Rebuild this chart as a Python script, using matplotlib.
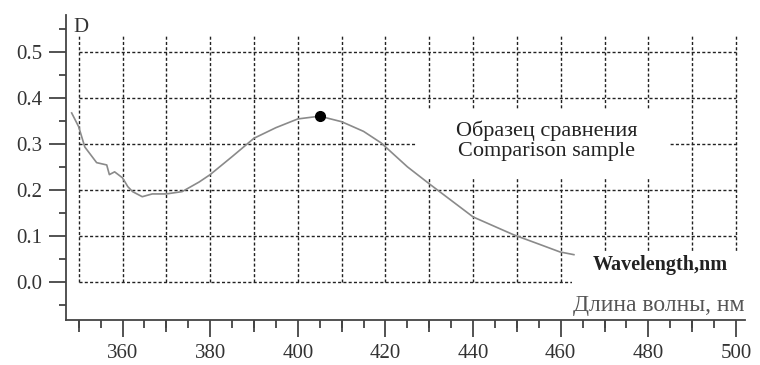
import matplotlib.pyplot as plt
from matplotlib.patches import Rectangle
from matplotlib.ticker import MultipleLocator, NullFormatter

# absorption spectrum of the comparison sample
wavelength = [348.4, 350, 351.4, 354.1, 356.4, 357, 358.2, 360, 361.2, 362.3,
              364.5, 366.8, 370, 373.6, 377.5, 380, 385, 390, 395, 400,
              405, 410, 415, 419, 425, 430, 435, 440, 445, 449.3,
              455, 459.8, 463]
optical_density = [0.367, 0.337, 0.293, 0.259, 0.254, 0.233, 0.239, 0.226, 0.207, 0.196,
                   0.185, 0.191, 0.191, 0.196, 0.217, 0.233, 0.272, 0.312, 0.335, 0.354,
                   0.360, 0.348, 0.327, 0.302, 0.250, 0.213, 0.177, 0.141, 0.120, 0.102,
                   0.082, 0.065, 0.059]
peak_wl = 405
peak_d = 0.36

x_grid = list(range(350, 501, 10))
y_grid = [0.0, 0.1, 0.2, 0.3, 0.4, 0.5]

plt.rcParams['font.family'] = ['Liberation Serif', 'DejaVu Serif']
AXIS_COLOR = '#444444'
TEXT_COLOR = '#333333'

fig = plt.figure(figsize=(7.6, 3.65), dpi=100)
ax = fig.add_axes([0.0868, 0.1233, 0.8932, 0.8357])
ax.set_xlim(347.1, 502)
ax.set_ylim(-0.083, 0.58)

# dotted grid only over the data area
dash = (0, (2.2, 1.6))
ax.hlines(y_grid, x_grid[0], x_grid[-1], colors='#222222', linewidth=1.0,
          linestyles=[dash], zorder=1)
ax.vlines(x_grid, 0.0, 0.535, colors='#222222', linewidth=1.0,
          linestyles=[dash], zorder=1)

ax.plot(wavelength, optical_density, color='#8a8a8a', linewidth=1.2, zorder=3)
ax.plot(peak_wl, peak_d, 'o', color='black', markersize=7, zorder=4)

for side in ['top', 'right']:
    ax.spines[side].set_visible(False)
for side in ['left', 'bottom']:
    ax.spines[side].set_color(AXIS_COLOR)
    ax.spines[side].set_linewidth(1.3)

ax.xaxis.set_major_locator(MultipleLocator(20))
ax.xaxis.set_minor_locator(MultipleLocator(5))
ax.yaxis.set_minor_locator(MultipleLocator(0.05))
ax.set_yticks(y_grid)
ax.set_yticklabels([f'{v:.1f}' for v in y_grid])
ax.tick_params(axis='both', which='major', colors=AXIS_COLOR, width=1.3,
               labelcolor=TEXT_COLOR, labelsize=15)
ax.tick_params(axis='x', which='major', length=12, pad=5)
ax.tick_params(axis='y', which='major', length=12, pad=5)
ax.tick_params(axis='x', which='minor', length=5.5, width=1.3, colors=AXIS_COLOR)
ax.tick_params(axis='y', which='minor', length=5, width=1.3, colors=AXIS_COLOR)

# medium ticks every 10 nm between the labelled ones
sec = ax.secondary_xaxis('bottom')
sec.spines['bottom'].set_visible(False)
sec.set_xticks(list(range(350, 501, 20)))
sec.xaxis.set_major_formatter(NullFormatter())
sec.tick_params(axis='x', length=8.5, width=1.3, colors=AXIS_COLOR)

ax.text(348.8, 0.553, 'D', fontsize=15, color=TEXT_COLOR, ha='left', va='center')

# white panels behind the captions
ax.add_patch(Rectangle((427.3, 0.228), 57.4, 0.146, facecolor='white',
                       edgecolor='none', zorder=2))
ax.add_patch(Rectangle((462.6, -0.02), 39.4, 0.085, facecolor='white',
                       edgecolor='none', zorder=2))

ax.text(0.708, 0.587, 'Образец сравнения\nComparison sample',
        transform=ax.transAxes, fontsize=16, color='#222222', ha='center',
        va='center', linespacing=1.05, zorder=5)

ax.text(0.975, 0.18, 'Wavelength,nm', transform=ax.transAxes, fontsize=14.5,
        fontweight='bold', color='#222222', ha='right', va='center', zorder=5)

ax.text(1.0, 0.046, 'Длина волны, нм', transform=ax.transAxes, fontsize=17,
        color='#555555', ha='right', va='center')

fig.savefig('out.png', dpi=100)
